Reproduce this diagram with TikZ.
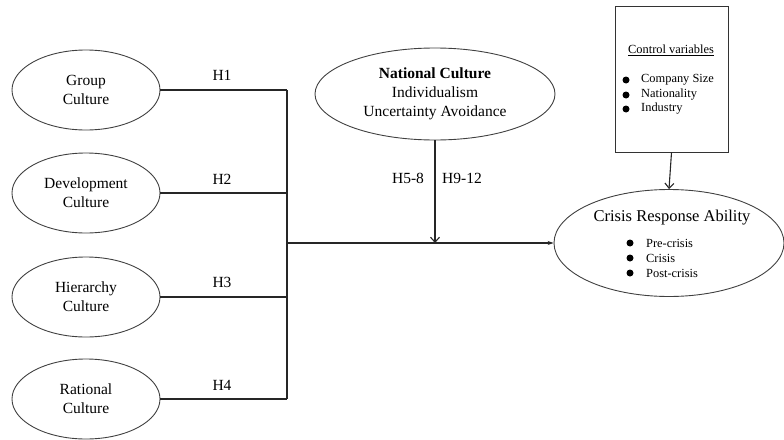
\documentclass[tikz,border=0pt]{standalone}
\usepackage{fontspec}
\setmainfont{Liberation Serif}
\usetikzlibrary{shapes.geometric,arrows.meta}
\begin{document}
\begin{tikzpicture}[x=1pt,y=1pt,
  oval/.style={draw=black!75, line width=0.9pt, ellipse, inner sep=0pt, align=center,
    font=\fontsize{15.5}{19}\selectfont},
  conn/.style={line width=1.1pt, draw=black!85},
  lbl/.style={font=\fontsize{15.5}{19}\selectfont, inner sep=0pt},
  small/.style={font=\fontsize{12.4}{15}\selectfont, inner sep=0pt, anchor=west},
  dot/.style={circle, fill=black, inner sep=0pt, minimum size=7pt},
  barb/.style={-{Straight Barb[length=5pt,width=9pt]}},
  tip/.style={-{Stealth[length=6pt,width=4pt]}}]
\useasboundingbox (0,0) rectangle (784,-439);

% left ellipses
\node[oval, minimum width=148pt, minimum height=80pt] (g) at (86,-90) {Group\\Culture};
\node[oval, minimum width=148pt, minimum height=80pt] (d) at (86,-193) {Development\\Culture};
\node[oval, minimum width=148pt, minimum height=80pt] (h) at (86,-297) {Hierarchy\\Culture};
\node[oval, minimum width=148pt, minimum height=80pt] (r) at (86,-399) {Rational\\Culture};

\coordinate (j1) at (287,-90);
\coordinate (j2) at (287,-193);
\coordinate (j3) at (287,-297);
\coordinate (j4) at (287,-399);
\coordinate (jm) at (287,-243);

\draw[conn] (g.east) -- (j1);
\draw[conn] (d.east) -- (j2);
\draw[conn] (h.east) -- (j3);
\draw[conn] (r.east) -- (j4);
\draw[conn] (j1) -- (j4);

\node[lbl] (h1) at (222,-75) {H1};
\node[lbl] (h2) at (222,-179) {H2};
\node[lbl] (h3) at (222,-282) {H3};
\node[lbl] (h4) at (222,-385) {H4};

% national culture
\node[oval, minimum width=240pt, minimum height=92pt] (nat) at (435,-94)
  {\textbf{National Culture}\\Individualism\\Uncertainty Avoidance};
\coordinate (mid) at (435,-243);
\draw[conn, barb] (nat.south) -- (mid);
\node[lbl] (h58) at (408,-178) {H5-8};
\node[lbl] (h912) at (462,-178) {H9-12};

% crisis response ability
\node[oval, minimum width=230pt, minimum height=107pt] (cra) at (669,-243) {};
\draw[conn, tip] (jm) -- (cra.west);
\node[font=\fontsize{16.5}{19}\selectfont, inner sep=0pt] (cratitle) at (672,-218) {Crisis Response Ability};
\node[dot] (cd1) at (630,-243) {};
\node[dot] (cd2) at (630,-258) {};
\node[dot] (cd3) at (630,-273) {};
\node[small] (ct1) at (646,-243) {Pre-crisis};
\node[small] (ct2) at (646,-258) {Crisis};
\node[small] (ct3) at (646,-273) {Post-crisis};

% control variables box
\node[draw=black!80, line width=0.9pt, minimum width=113pt, minimum height=146pt, inner sep=0pt]
  (ctrl) at (671.5,-79) {};
\node[font=\fontsize{12.4}{15}\selectfont, inner sep=0pt] (ctitle) at (671,-50) {\underline{Control variables}};
\node[dot] (bd1) at (626,-80) {};
\node[dot] (bd2) at (626,-95) {};
\node[dot] (bd3) at (626,-109) {};
\node[small] (bt1) at (641,-80) {Company Size};
\node[small] (bt2) at (641,-95) {Nationality};
\node[small] (bt3) at (641,-109) {Industry};
\draw[conn, barb] (ctrl.south) -- (cra.north);
\end{tikzpicture}
\end{document}
